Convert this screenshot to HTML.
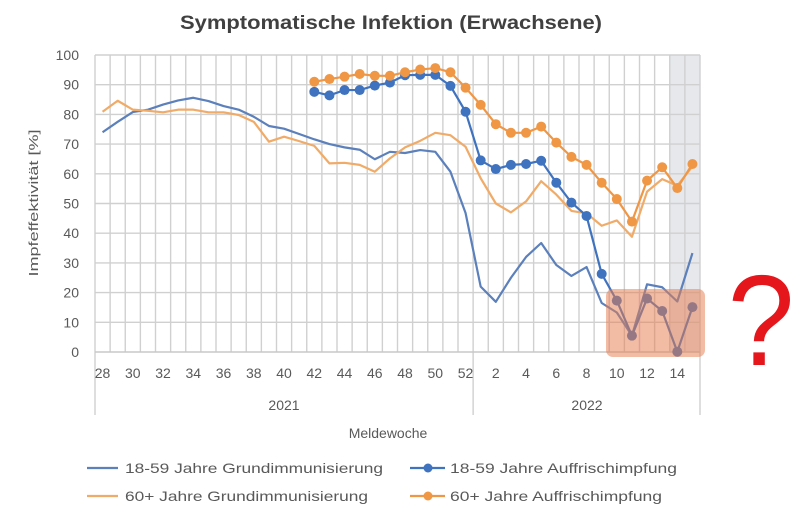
<!DOCTYPE html>
<html><head><meta charset="utf-8">
<style>
html,body{margin:0;padding:0;background:#fff;}
svg{display:block;}
text{font-family:"Liberation Sans",Arial,sans-serif;}
</style></head>
<body>
<svg width="800" height="510" viewBox="0 0 800 510" xmlns="http://www.w3.org/2000/svg">
<rect x="0" y="0" width="800" height="510" fill="#ffffff"/>
<!-- title -->
<text x="180" y="29" font-size="19" font-weight="bold" fill="#404040" textLength="422" lengthAdjust="spacingAndGlyphs">Symptomatische Infektion (Erwachsene)</text>
<!-- shaded region -->
<rect x="669.75" y="55" width="30.25" height="297" fill="#e7e8ec"/>
<!-- grid -->
<g stroke="#d0d0d0" stroke-width="1.4" fill="none">
<path d="M95,55H700M95,84.7H700M95,114.4H700M95,144.1H700M95,173.8H700M95,203.5H700M95,233.2H700M95,262.9H700M95,292.6H700M95,322.3H700"/>
<path d="M95,55V415M110.13,55V352M125.25,55V352M140.38,55V352M155.5,55V352M170.63,55V352M185.75,55V352M200.88,55V352M216,55V352M231.13,55V352M246.25,55V352M261.38,55V352M276.5,55V352M291.63,55V352M306.75,55V352M321.88,55V352M337,55V352M352.13,55V352M367.25,55V352M382.38,55V352M397.5,55V352M412.63,55V352M427.75,55V352M442.88,55V352M458,55V352M473.13,55V415M488.25,55V352M503.38,55V352M518.5,55V352M533.63,55V352M548.75,55V352M563.88,55V352M579,55V352M594.13,55V352M609.25,55V352M624.38,55V352M639.5,55V352M654.63,55V352M669.75,55V352M684.88,55V352M700,55V415"/>
<path d="M95,352H700" stroke="#c8c8c8"/>
</g>
<!-- y tick labels -->
<g font-size="14" fill="#595959" text-anchor="end">
<text x="79" y="60">100</text>
<text x="79" y="89.7">90</text>
<text x="79" y="119.4">80</text>
<text x="79" y="149.1">70</text>
<text x="79" y="178.8">60</text>
<text x="79" y="208.5">50</text>
<text x="79" y="238.2">40</text>
<text x="79" y="267.9">30</text>
<text x="79" y="297.6">20</text>
<text x="79" y="327.3">10</text>
<text x="79" y="357">0</text>
</g>
<!-- x tick labels -->
<g font-size="14" fill="#595959" text-anchor="middle">
<text x="102.56" y="378">28</text>
<text x="132.81" y="378">30</text>
<text x="163.06" y="378">32</text>
<text x="193.31" y="378">34</text>
<text x="223.56" y="378">36</text>
<text x="253.81" y="378">38</text>
<text x="284.06" y="378">40</text>
<text x="314.31" y="378">42</text>
<text x="344.56" y="378">44</text>
<text x="374.81" y="378">46</text>
<text x="405.06" y="378">48</text>
<text x="435.31" y="378">50</text>
<text x="465.56" y="378">52</text>
<text x="495.81" y="378">2</text>
<text x="526.06" y="378">4</text>
<text x="556.31" y="378">6</text>
<text x="586.56" y="378">8</text>
<text x="616.81" y="378">10</text>
<text x="647.06" y="378">12</text>
<text x="677.31" y="378">14</text>
<text x="284" y="410">2021</text>
<text x="587" y="410">2022</text>
<text x="388" y="438">Meldewoche</text>
</g>
<!-- y axis title -->
<text transform="translate(38,203) rotate(-90)" x="0" y="0" font-size="13" fill="#595959" text-anchor="middle" textLength="147" lengthAdjust="spacingAndGlyphs">Impfeffektivität [%]</text>

<!-- series: blue Grund -->
<polyline fill="none" stroke="#5b80bb" stroke-width="2.2" stroke-linejoin="round" points="102.56,132.22 117.69,121.82 132.81,112.02 147.94,109.65 163.06,104.6 178.19,100.44 193.31,97.77 208.44,101.03 223.56,106.08 238.69,109.65 253.81,116.78 268.94,125.98 284.06,128.66 299.19,134 314.31,139.35 329.44,144.1 344.56,147.37 359.69,149.74 374.81,159.25 389.94,151.82 405.06,153.01 420.19,150.04 435.31,151.82 450.44,171.72 465.56,213 480.69,286.66 495.81,301.81 510.94,277.75 526.06,256.96 541.19,243 556.31,264.98 571.44,275.97 586.56,267.06 601.69,303 616.81,312.5 631.94,335.66 647.06,284.28 662.19,287.25 677.31,301.51 692.44,253.1"/>
<!-- orange Grund -->
<polyline fill="none" stroke="#f0ab68" stroke-width="2.2" stroke-linejoin="round" points="102.56,111.73 117.69,100.74 132.81,109.65 147.94,110.84 163.06,112.32 178.19,109.65 193.31,109.65 208.44,112.32 223.56,112.32 238.69,115 253.81,121.82 268.94,141.72 284.06,136.67 299.19,141.13 314.31,145.88 329.44,163.4 344.56,162.81 359.69,164.89 374.81,171.72 389.94,158.36 405.06,147.37 420.19,140.83 435.31,132.81 450.44,135.19 465.56,146.77 480.69,178.25 495.81,203.5 510.94,212.41 526.06,201.42 541.19,181.22 556.31,194.59 571.44,210.92 586.56,213.3 601.69,225.77 616.81,220.43 631.94,236.76 647.06,191.62 662.19,179.15 677.31,185.68 692.44,166.37"/>
<!-- blue Auff -->
<g fill="#3f73bf">
<polyline fill="none" stroke="#3f73bf" stroke-width="2.2" stroke-linejoin="round" points="314.31,91.83 329.44,95.39 344.56,90.05 359.69,90.05 374.81,85.59 389.94,82.62 405.06,75.2 420.19,74.9 435.31,74.9 450.44,85.89 465.56,111.73 480.69,160.43 495.81,169.05 510.94,164.89 526.06,164 541.19,160.73 556.31,182.71 571.44,202.61 586.56,215.97 601.69,273.89 616.81,300.62 631.94,335.66 647.06,298.54 662.19,311.01 677.31,351.7 692.44,307.15"/>
<circle cx="314.31" cy="91.83" r="5"/><circle cx="329.44" cy="95.39" r="5"/><circle cx="344.56" cy="90.05" r="5"/><circle cx="359.69" cy="90.05" r="5"/><circle cx="374.81" cy="85.59" r="5"/><circle cx="389.94" cy="82.62" r="5"/><circle cx="405.06" cy="75.2" r="5"/><circle cx="420.19" cy="74.9" r="5"/><circle cx="435.31" cy="74.9" r="5"/><circle cx="450.44" cy="85.89" r="5"/><circle cx="465.56" cy="111.73" r="5"/><circle cx="480.69" cy="160.43" r="5"/><circle cx="495.81" cy="169.05" r="5"/><circle cx="510.94" cy="164.89" r="5"/><circle cx="526.06" cy="164" r="5"/><circle cx="541.19" cy="160.73" r="5"/><circle cx="556.31" cy="182.71" r="5"/><circle cx="571.44" cy="202.61" r="5"/><circle cx="586.56" cy="215.97" r="5"/><circle cx="601.69" cy="273.89" r="5"/><circle cx="616.81" cy="300.62" r="5"/><circle cx="631.94" cy="335.66" r="5"/><circle cx="647.06" cy="298.54" r="5"/><circle cx="662.19" cy="311.01" r="5"/><circle cx="677.31" cy="351.7" r="5"/><circle cx="692.44" cy="307.15" r="5"/>
</g>
<!-- orange Auff -->
<g fill="#ef9745">
<polyline fill="none" stroke="#ef9745" stroke-width="2.2" stroke-linejoin="round" points="314.31,81.73 329.44,79.06 344.56,76.68 359.69,74.01 374.81,75.79 389.94,75.79 405.06,72.23 420.19,69.55 435.31,68.07 450.44,72.23 465.56,87.67 480.69,104.9 495.81,124.2 510.94,132.81 526.06,132.81 541.19,126.58 556.31,142.61 571.44,156.87 586.56,164.89 601.69,182.71 616.81,199.04 631.94,221.62 647.06,180.63 662.19,167.27 677.31,188.06 692.44,164"/>
<circle cx="314.31" cy="81.73" r="5"/><circle cx="329.44" cy="79.06" r="5"/><circle cx="344.56" cy="76.68" r="5"/><circle cx="359.69" cy="74.01" r="5"/><circle cx="374.81" cy="75.79" r="5"/><circle cx="389.94" cy="75.79" r="5"/><circle cx="405.06" cy="72.23" r="5"/><circle cx="420.19" cy="69.55" r="5"/><circle cx="435.31" cy="68.07" r="5"/><circle cx="450.44" cy="72.23" r="5"/><circle cx="465.56" cy="87.67" r="5"/><circle cx="480.69" cy="104.9" r="5"/><circle cx="495.81" cy="124.2" r="5"/><circle cx="510.94" cy="132.81" r="5"/><circle cx="526.06" cy="132.81" r="5"/><circle cx="541.19" cy="126.58" r="5"/><circle cx="556.31" cy="142.61" r="5"/><circle cx="571.44" cy="156.87" r="5"/><circle cx="586.56" cy="164.89" r="5"/><circle cx="601.69" cy="182.71" r="5"/><circle cx="616.81" cy="199.04" r="5"/><circle cx="631.94" cy="221.62" r="5"/><circle cx="647.06" cy="180.63" r="5"/><circle cx="662.19" cy="167.27" r="5"/><circle cx="677.31" cy="188.06" r="5"/><circle cx="692.44" cy="164" r="5"/>
</g>

<!-- red highlight box -->
<rect x="606" y="289" width="99" height="68" rx="7" ry="7" fill="rgb(231,125,81)" fill-opacity="0.52"/>

<!-- question mark -->
<text transform="translate(762,365) scale(0.93,1)" x="-1" y="0" font-size="129" fill="#e5161c" text-anchor="middle">?</text>

<!-- legend -->
<g stroke-width="2.2">
<line x1="87" y1="468" x2="118" y2="468" stroke="#5b80bb"/>
<line x1="87" y1="496" x2="118" y2="496" stroke="#f0ab68"/>
<line x1="410" y1="468" x2="445" y2="468" stroke="#3f73bf"/>
<line x1="410" y1="496" x2="445" y2="496" stroke="#ef9745"/>
</g>
<circle cx="428" cy="468" r="4.5" fill="#3f73bf"/>
<circle cx="428" cy="496" r="4.5" fill="#ef9745"/>
<g font-size="14" fill="#595959">
<text x="125" y="473" textLength="258" lengthAdjust="spacingAndGlyphs">18-59 Jahre Grundimmunisierung</text>
<text x="125" y="501" textLength="243" lengthAdjust="spacingAndGlyphs">60+ Jahre Grundimmunisierung</text>
<text x="450" y="473" textLength="227" lengthAdjust="spacingAndGlyphs">18-59 Jahre Auffrischimpfung</text>
<text x="450" y="501" textLength="212" lengthAdjust="spacingAndGlyphs">60+ Jahre Auffrischimpfung</text>
</g>
</svg>
</body></html>
